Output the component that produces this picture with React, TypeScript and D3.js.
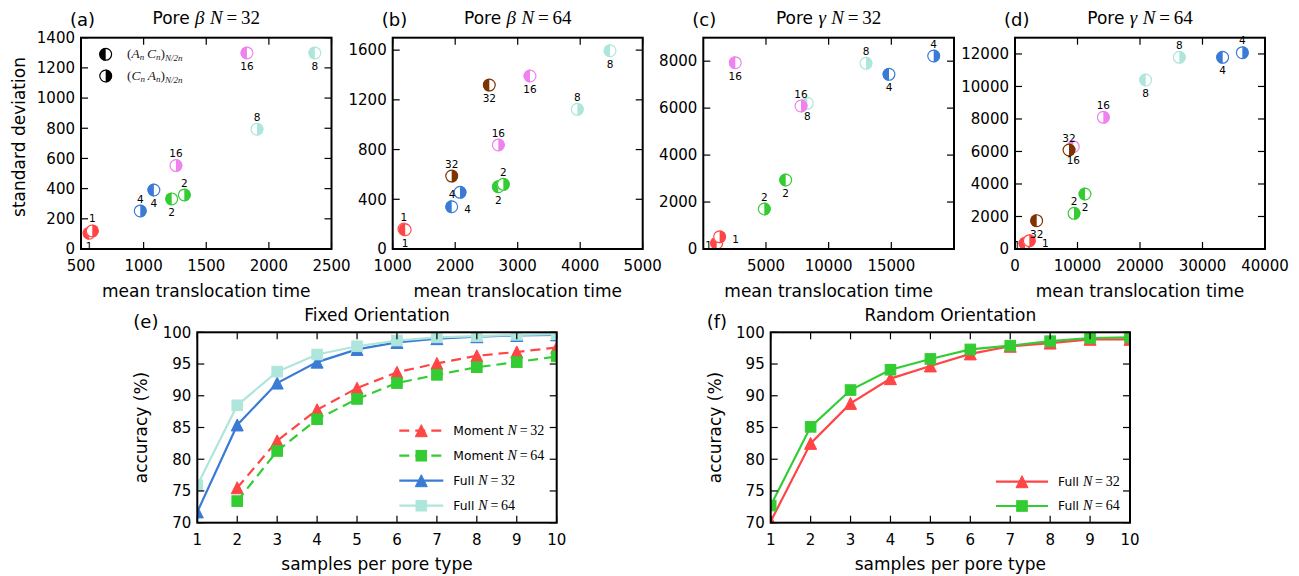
import React from "react";
import * as d3 from "d3";

// ---------------- DATA ----------------
type SP = { n: number; x: number; y: number; t: "A" | "C"; lab: "a" | "b" | "l" | "r" };

// t: "A" = (A_n C_n)_{N/2n}, "C" = (C_n A_n)_{N/2n}; lab = side of the number label
const poreBetaN32: SP[] = [
  { n: 8, x: 1905, y: 794, t: "C", lab: "a" },
  { n: 8, x: 2367, y: 1299, t: "A", lab: "b" },
  { n: 4, x: 973, y: 252, t: "C", lab: "a" },
  { n: 4, x: 1082, y: 391, t: "A", lab: "b" },
  { n: 2, x: 1224, y: 332, t: "A", lab: "b" },
  { n: 2, x: 1325, y: 358, t: "C", lab: "a" },
  { n: 16, x: 1258, y: 553, t: "C", lab: "a" },
  { n: 16, x: 1825, y: 1299, t: "A", lab: "b" },
  { n: 1, x: 565, y: 105, t: "A", lab: "b" },
  { n: 1, x: 590, y: 120, t: "C", lab: "a" },
];
const poreBetaN64: SP[] = [
  { n: 8, x: 3954, y: 1124, t: "C", lab: "a" },
  { n: 8, x: 4477, y: 1595, t: "A", lab: "b" },
  { n: 4, x: 1944, y: 340, t: "A", lab: "r" },
  { n: 4, x: 2077, y: 456, t: "C", lab: "l" },
  { n: 2, x: 2690, y: 501, t: "A", lab: "b" },
  { n: 2, x: 2770, y: 520, t: "C", lab: "a" },
  { n: 16, x: 2690, y: 837, t: "C", lab: "a" },
  { n: 16, x: 3197, y: 1392, t: "A", lab: "b" },
  { n: 32, x: 1944, y: 587, t: "C", lab: "a" },
  { n: 32, x: 2546, y: 1319, t: "A", lab: "b" },
  { n: 1, x: 1180, y: 160, t: "C", lab: "a" },
  { n: 1, x: 1200, y: 155, t: "A", lab: "b" },
];
const poreGammaN32: SP[] = [
  { n: 8, x: 8297, y: 6205, t: "A", lab: "b" },
  { n: 8, x: 12980, y: 7908, t: "C", lab: "a" },
  { n: 4, x: 14814, y: 7440, t: "A", lab: "b" },
  { n: 4, x: 18380, y: 8220, t: "C", lab: "a" },
  { n: 2, x: 4866, y: 1704, t: "C", lab: "a" },
  { n: 2, x: 6574, y: 2939, t: "A", lab: "b" },
  { n: 16, x: 2553, y: 7935, t: "A", lab: "b" },
  { n: 16, x: 7794, y: 6090, t: "C", lab: "a" },
  { n: 1, x: 1070, y: 250, t: "A", lab: "l" },
  { n: 1, x: 1300, y: 520, t: "C", lab: "r" },
];
const poreGammaN64: SP[] = [
  { n: 8, x: 20907, y: 10397, t: "A", lab: "b" },
  { n: 8, x: 26293, y: 11793, t: "C", lab: "a" },
  { n: 4, x: 33227, y: 11793, t: "A", lab: "b" },
  { n: 4, x: 36373, y: 12077, t: "C", lab: "a" },
  { n: 2, x: 9440, y: 2196, t: "C", lab: "a" },
  { n: 2, x: 11200, y: 3384, t: "A", lab: "b" },
  { n: 16, x: 9333, y: 6294, t: "A", lab: "b" },
  { n: 16, x: 14133, y: 8102, t: "C", lab: "a" },
  { n: 32, x: 3467, y: 1743, t: "A", lab: "b" },
  { n: 32, x: 8640, y: 6091, t: "C", lab: "a" },
  { n: 1, x: 1600, y: 350, t: "A", lab: "l" },
  { n: 1, x: 2293, y: 511, t: "C", lab: "r" },
];

const xTicksA = [500, 1000, 1500, 2000, 2500];
const yTicksA = [0, 200, 400, 600, 800, 1000, 1200, 1400];
const xTicksB = [1000, 2000, 3000, 4000, 5000];
const yTicksB = [0, 400, 800, 1200, 1600];
const xTicksC = [5000, 10000, 15000];
const yTicksC = [0, 2000, 4000, 6000, 8000];
const xTicksD = [0, 10000, 20000, 30000, 40000];
const yTicksD = [0, 2000, 4000, 6000, 8000, 10000, 12000];

const samples = [1, 2, 3, 4, 5, 6, 7, 8, 9, 10];
const fixedMoment32: (number | null)[] = [null, 75.5, 82.9, 87.8, 91.2, 93.7, 95.1, 96.3, 96.9, 97.6];
const fixedMoment64: (number | null)[] = [null, 73.4, 81.3, 86.3, 89.5, 92.0, 93.3, 94.5, 95.3, 96.2];
const fixedFull32: (number | null)[] = [71.7, 85.4, 92.0, 95.3, 97.3, 98.4, 99.0, 99.3, 99.5, 99.6];
const fixedFull64: (number | null)[] = [75.9, 88.5, 93.8, 96.5, 97.8, 98.7, 99.2, 99.4, 99.6, 99.7];
const randomFull32: (number | null)[] = [70.2, 82.5, 88.8, 92.7, 94.7, 96.6, 97.8, 98.3, 98.9, 98.9];
const randomFull64: (number | null)[] = [72.7, 85.1, 90.9, 94.1, 95.8, 97.3, 97.9, 98.6, 99.1, 99.2];
const accTicksX = [1, 2, 3, 4, 5, 6, 7, 8, 9, 10];
const accTicksY = [70, 75, 80, 85, 90, 95, 100];

// ---------------- STYLE ----------------
const SANS = "DejaVu Sans, sans-serif";
const MATH = "Liberation Serif, DejaVu Serif, serif";
const COLORS: Record<number, string> = {
  1: "#ff4545",
  2: "#33cc33",
  4: "#3a7bd5",
  8: "#aee6dc",
  16: "#ee82ee",
  32: "#7f3300",
};
const TICK = 7;
const TOP_Y0 = 37.7;
const TOP_Y1 = 249;
const BOT_Y0 = 332.3;
const BOT_Y1 = 522.7;

function HalfCircle({ cx, cy, r, color, side }: { cx: number; cy: number; r: number; color: string; side: "A" | "C" }) {
  const sweep = side === "A" ? 0 : 1;
  return (
    <g>
      <circle cx={cx} cy={cy} r={r} fill="#fff" />
      <path d={`M${cx},${cy - r} A${r},${r} 0 0 ${sweep} ${cx},${cy + r} Z`} fill={color} />
      <circle cx={cx} cy={cy} r={r - 0.5} fill="none" stroke={color} strokeWidth={1.2} />
    </g>
  );
}

function Frame({ l, r, t, b, xs, ys, xt, yt, fmt, labelPadY = 6 }: any) {
  return (
    <g>
      {xt.map((v: number) => (
        <g key={"x" + v}>
          <line x1={xs(v)} x2={xs(v)} y1={b} y2={b - TICK} stroke="#000" strokeWidth={1.2} />
          <line x1={xs(v)} x2={xs(v)} y1={t} y2={t + TICK} stroke="#000" strokeWidth={1.2} />
          <text x={xs(v)} y={b + 22} textAnchor="middle" fontFamily={SANS} fontSize={15}>
            {fmt(v)}
          </text>
        </g>
      ))}
      {yt.map((v: number) => (
        <g key={"y" + v}>
          <line x1={l} x2={l + TICK} y1={ys(v)} y2={ys(v)} stroke="#000" strokeWidth={1.2} />
          <line x1={r} x2={r - TICK} y1={ys(v)} y2={ys(v)} stroke="#000" strokeWidth={1.2} />
          <text x={l - labelPadY} y={ys(v) + 5.3} textAnchor="end" fontFamily={SANS} fontSize={15}>
            {fmt(v)}
          </text>
        </g>
      ))}
      <rect x={l} y={t} width={r - l} height={b - t} fill="none" stroke="#000" strokeWidth={2} />
    </g>
  );
}

const labOffset: Record<string, [number, number]> = {
  a: [0, -12],
  b: [0, 13.5],
  l: [-8, 2],
  r: [16, 3],
};

function ScatterPanel({ l, r, data, xd, yd, xt, yt, letter, sym, N, legend }: any) {
  const xs = d3.scaleLinear().domain(xd).range([l, r]);
  const ys = d3.scaleLinear().domain(yd).range([TOP_Y1, TOP_Y0]);
  const cx = (l + r) / 2;
  return (
    <g>
      <text x={l - 11} y={25.5} fontFamily={SANS} fontSize={18}>
        ({letter})
      </text>
      <text x={cx} y={24} textAnchor="middle" fontFamily={SANS} fontSize={17}>
        Pore{" "}
        <tspan fontFamily={MATH} fontStyle="italic" fontSize={19}>
          {sym}
        </tspan>{" "}
        <tspan fontFamily={MATH} fontStyle="italic" fontSize={19}>
          N
        </tspan>
        <tspan fontFamily={MATH} fontSize={19}>
          {"\u2009=\u2009" + N}
        </tspan>
      </text>
      {data.map((p: SP, i: number) => {
        const px = xs(p.x);
        const py = ys(p.y);
        return <HalfCircle key={i} cx={px} cy={py} r={6.4} color={COLORS[p.n]} side={p.t} />;
      })}
      {data.map((p: SP, i: number) => {
        const [dx, dy] = labOffset[p.lab];
        return (
          <text key={"l" + i} x={xs(p.x) + dx} y={ys(p.y) + dy + 3.6} textAnchor="middle" fontFamily={SANS} fontSize={10.5}>
            {p.n}
          </text>
        );
      })}
      {legend && (
        <g>
          <HalfCircle cx={105.7} cy={54.3} r={6.4} color="#000" side="A" />
          <HalfCircle cx={105.7} cy={76} r={6.4} color="#000" side="C" />
          <text x={127} y={58} fontFamily={MATH} fontSize={13.5} fill="#222">
            (<tspan fontStyle="italic">A</tspan>
            <tspan fontStyle="italic" fontSize={9} dy={2}>n</tspan>
            <tspan fontStyle="italic" dy={-2}>{"\u2009C"}</tspan>
            <tspan fontStyle="italic" fontSize={9} dy={2}>n</tspan>
            <tspan dy={-2}>)</tspan>
            <tspan fontStyle="italic" fontSize={9} dy={3}>N/2n</tspan>
          </text>
          <text x={127} y={80} fontFamily={MATH} fontSize={13.5} fill="#222">
            (<tspan fontStyle="italic">C</tspan>
            <tspan fontStyle="italic" fontSize={9} dy={2}>n</tspan>
            <tspan fontStyle="italic" dy={-2}>{"\u2009A"}</tspan>
            <tspan fontStyle="italic" fontSize={9} dy={2}>n</tspan>
            <tspan dy={-2}>)</tspan>
            <tspan fontStyle="italic" fontSize={9} dy={3}>N/2n</tspan>
          </text>
        </g>
      )}
      <Frame l={l} r={r} t={TOP_Y0} b={TOP_Y1} xs={xs} ys={ys} xt={xt} yt={yt} fmt={(v: number) => String(v)} />
      <text x={cx} y={297} textAnchor="middle" fontFamily={SANS} fontSize={17}>
        mean translocation time
      </text>
    </g>
  );
}

function Marker({ kind, x, y, color }: { kind: string; x: number; y: number; color: string }) {
  if (kind === "tri") {
    const h = 6;
    return <path d={`M${x},${y - h} L${x - h},${y + h} L${x + h},${y + h} Z`} fill={color} stroke={color} strokeWidth={1} />;
  }
  const s = 5.3;
  return <rect x={x - s} y={y - s} width={2 * s} height={2 * s} fill={color} stroke={color} strokeWidth={1} />;
}

function MathLabel({ name, N }: { name: string; N: number }) {
  return (
    <>
      {name + " "}
      <tspan fontFamily={MATH} fontStyle="italic" fontSize={14}>
        N
      </tspan>
      <tspan fontFamily={MATH} fontSize={14}>
        {"\u2009=\u2009" + N}
      </tspan>
    </>
  );
}

function LinePanel({ l, r, series, letter, title, legendX, legendRows, legendLen, id }: any) {
  const xs = d3.scaleLinear().domain([1, 10]).range([l, r]);
  const ys = d3.scaleLinear().domain([70, 100]).range([BOT_Y1, BOT_Y0]);
  const line = d3
    .line<number | null>()
    .defined((v) => v != null)
    .x((_, i) => xs(samples[i]))
    .y((v) => ys(v as number));
  const cx = (l + r) / 2;
  return (
    <g>
      <defs>
        <clipPath id={id}>
          <rect x={l} y={BOT_Y0} width={r - l} height={BOT_Y1 - BOT_Y0} />
        </clipPath>
      </defs>
      <text x={l - 64} y={328} fontFamily={SANS} fontSize={18}>
        ({letter})
      </text>
      <text x={cx} y={321} textAnchor="middle" fontFamily={SANS} fontSize={17}>
        {title}
      </text>
      <g clipPath={`url(#${id})`}>
        {series.map((s: any, k: number) => (
          <g key={k}>
            <path d={line(s.values) || ""} fill="none" stroke={s.color} strokeWidth={2.2} strokeDasharray={s.dashed ? "10,6" : undefined} />
            {s.values.map((v: number | null, i: number) =>
              v == null ? null : <Marker key={i} kind={s.marker} x={xs(samples[i])} y={ys(v)} color={s.color} />
            )}
          </g>
        ))}
      </g>
      {series.map((s: any, k: number) => {
        const y = legendRows[k];
        return (
          <g key={"lg" + k}>
            <line x1={legendX} x2={legendX + legendLen} y1={y} y2={y} stroke={s.color} strokeWidth={2.2} strokeDasharray={s.dashed ? "10,6" : undefined} />
            <Marker kind={s.marker} x={legendX + legendLen / 2} y={y} color={s.color} />
            <text x={legendX + legendLen + 10} y={y + 4.4} fontFamily={SANS} fontSize={12.3}>
              <MathLabel name={s.name} N={s.N} />
            </text>
          </g>
        );
      })}
      <Frame l={l} r={r} t={BOT_Y0} b={BOT_Y1} xs={xs} ys={ys} xt={accTicksX} yt={accTicksY} fmt={(v: number) => String(v)} />
      <text transform={`translate(${l - 56},${(BOT_Y0 + BOT_Y1) / 2}) rotate(-90)`} textAnchor="middle" dominantBaseline="central" fontFamily={SANS} fontSize={17}>
        accuracy (%)
      </text>
      <text x={cx} y={570} textAnchor="middle" fontFamily={SANS} fontSize={17}>
        samples per pore type
      </text>
    </g>
  );
}

export default function App() {
  const fixedSeries = [
    { name: "Moment", N: 32, values: fixedMoment32, color: COLORS[1], dashed: true, marker: "tri" },
    { name: "Moment", N: 64, values: fixedMoment64, color: COLORS[2], dashed: true, marker: "sq" },
    { name: "Full", N: 32, values: fixedFull32, color: COLORS[4], dashed: false, marker: "tri" },
    { name: "Full", N: 64, values: fixedFull64, color: COLORS[8], dashed: false, marker: "sq" },
  ];
  const randomSeries = [
    { name: "Full", N: 32, values: randomFull32, color: COLORS[1], dashed: false, marker: "tri" },
    { name: "Full", N: 64, values: randomFull64, color: COLORS[2], dashed: false, marker: "sq" },
  ];
  return (
    <svg width={1299} height={576} style={{ position: "absolute", left: 0, top: 0, background: "#fff" }}>
      <rect x={0} y={0} width={1299} height={576} fill="#fff" />
      <ScatterPanel l={81} r={331.5} data={poreBetaN32} xd={[500, 2500]} yd={[0, 1400]} xt={xTicksA} yt={yTicksA} letter="a" sym="β" N={32} legend />
      <ScatterPanel l={392.7} r={642.7} data={poreBetaN64} xd={[1000, 5000]} yd={[0, 1700]} xt={xTicksB} yt={yTicksB} letter="b" sym="β" N={64} />
      <ScatterPanel l={703.3} r={954} data={poreGammaN32} xd={[0, 20000]} yd={[0, 9000]} xt={xTicksC} yt={yTicksC} letter="c" sym="γ" N={32} />
      <ScatterPanel l={1015} r={1265} data={poreGammaN64} xd={[0, 40000]} yd={[0, 13000]} xt={xTicksD} yt={yTicksD} letter="d" sym="γ" N={64} />
      <text transform={`translate(19,137) rotate(-90)`} textAnchor="middle" dominantBaseline="central" fontFamily={SANS} fontSize={17}>
        standard deviation
      </text>
      <LinePanel id="clipE" l={197.3} r={556.7} series={fixedSeries} letter="e" title="Fixed Orientation" legendX={399.3} legendRows={[430.7, 455.7, 480.7, 505.7]} legendLen={44} />
      <LinePanel id="clipF" l={770.7} r={1130} series={randomSeries} letter="f" title="Random Orientation" legendX={996} legendRows={[481.7, 506]} legendLen={52} />
    </svg>
  );
}
